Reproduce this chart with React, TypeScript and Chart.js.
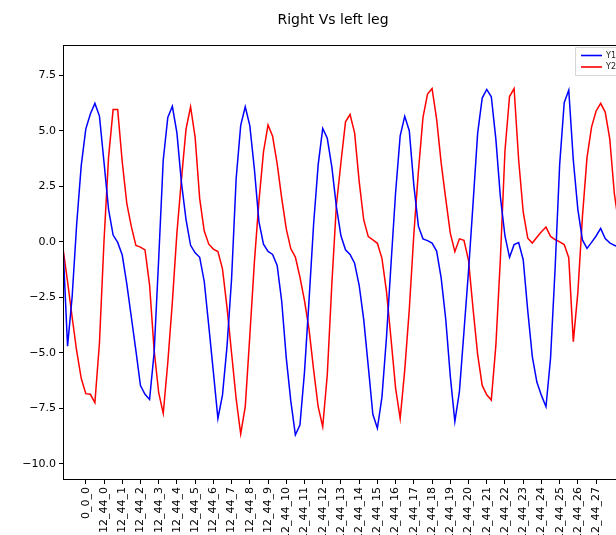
import React, { useEffect, useRef } from "react";
import { Chart, registerables } from "chart.js";

Chart.register(...registerables);

const TITLE = "Right Vs left leg";
const SERIES_NAMES = ["Y1", "Y2"];
const SERIES_COLORS = ["#0000ff", "#ff0000"];

const tickLabels = [
  "0_0_0", "12_44_0", "12_44_1", "12_44_2", "12_44_3", "12_44_4", "12_44_5",
  "12_44_6", "12_44_7", "12_44_8", "12_44_9", "12_44_10", "12_44_11", "12_44_12",
  "12_44_13", "12_44_14", "12_44_15", "12_44_16", "12_44_17", "12_44_18",
  "12_44_19", "12_44_20", "12_44_21", "12_44_22", "12_44_23", "12_44_24",
  "12_44_25", "12_44_26", "12_44_27",
];
const FIRST_TICK_INDEX = 5;
const SAMPLES_PER_TICK = 4;
const X_MAX = 124;

const yTickValues = [-10, -7.5, -5, -2.5, 0, 2.5, 5, 7.5];
const Y_MIN = -10.73;
const Y_MAX = 8.86;

const y1Values = [
  -0.2, -4.7, -2.5, 0.79, 3.43, 5.07, 5.75, 6.23, 5.66, 3.58,
  1.46, 0.3, -0.03, -0.6, -1.9, -3.4, -4.9, -6.48, -6.87, -7.1,
  -5.0, -0.78, 3.68, 5.6, 6.1, 4.9, 2.65, 1.0, -0.16, -0.5,
  -0.7, -1.79, -3.8, -5.86, -7.96, -6.91, -4.7, -1.66, 2.84, 5.24,
  6.08, 5.23, 3.28, 0.91, -0.11, -0.44, -0.57, -1.07, -2.68, -5.23,
  -7.18, -8.7, -8.26, -5.87, -2.63, 0.79, 3.46, 5.1, 4.66, 3.37,
  1.58, 0.27, -0.36, -0.57, -0.97, -1.96, -3.51, -5.61, -7.77, -8.4,
  -7.0, -4.29, -0.97, 2.23, 4.77, 5.65, 5.0, 2.54, 0.7, 0.13,
  0.05, -0.06, -0.42, -1.64, -3.49, -6.05, -8.1, -6.75, -4.04, -1.31,
  1.74, 4.88, 6.47, 6.86, 6.53, 4.62, 2.0, 0.26, -0.7, -0.13,
  -0.04, -0.81, -3.11, -5.17, -6.32, -6.92, -7.43, -5.25, -1.22, 3.47,
  6.26, 6.83, 3.67, 1.45, 0.08, -0.3, -0.03, 0.26, 0.6, 0.14,
  -0.05, -0.16, -0.25, -0.3,
];

const y2Values = [
  -0.3, -1.79, -3.39, -4.92, -6.15, -6.84, -6.87, -7.25, -4.56, 0.03,
  3.81, 5.95, 5.95, 3.6, 1.73, 0.68, -0.17, -0.24, -0.37, -1.94,
  -4.88, -6.8, -7.73, -5.44, -2.72, 0.4, 2.82, 5.07, 6.08, 4.7,
  1.94, 0.48, -0.11, -0.33, -0.44, -1.22, -2.97, -5.02, -7.07, -8.65,
  -7.43, -4.24, -0.93, 1.82, 4.05, 5.26, 4.75, 3.52, 1.96, 0.58,
  -0.32, -0.69, -1.59, -2.65, -3.95, -5.76, -7.43, -8.33, -6.0, -1.91,
  1.65, 3.57, 5.4, 5.73, 4.9, 2.72, 0.98, 0.23, 0.08, -0.07,
  -0.75, -2.25, -4.39, -6.6, -7.96, -5.78, -3.05, 0.34, 3.17, 5.59,
  6.65, 6.9, 5.52, 3.54, 1.93, 0.39, -0.45, 0.13, 0.06, -0.84,
  -3.03, -5.07, -6.47, -6.89, -7.13, -4.67, -0.73, 4.1, 6.54, 6.9,
  3.69, 1.34, 0.16, -0.06, 0.2, 0.45, 0.66, 0.24, 0.1, -0.01,
  -0.13, -0.72, -4.5, -2.27, 1.13, 3.79, 5.16, 5.89, 6.23, 5.84,
  4.63, 2.18, 0.74, 0.3,
];

const FONT = "'DejaVu Sans', sans-serif";
const CANVAS_W = 666;
const CANVAS_H = 535;

export default function App() {
  const ref = useRef<HTMLCanvasElement>(null);

  useEffect(() => {
    document.body.style.margin = "0";
    const canvas = ref.current;
    if (!canvas) return;

    const framePlugin = {
      id: "frame",
      afterDatasetsDraw(chart: any) {
        const { ctx, chartArea: a } = chart;
        ctx.save();
        ctx.strokeStyle = "#000";
        ctx.lineWidth = 1;
        ctx.strokeRect(Math.round(a.left) + 0.5, Math.round(a.top) + 0.5,
          Math.round(a.right - a.left) - 1, Math.round(a.bottom - a.top) - 1);
        ctx.restore();
      },
    };

    const legendPlugin = {
      id: "mplLegend",
      afterDraw(chart: any) {
        const { ctx, chartArea: a } = chart;
        const right = a.right - 5;
        const top = a.top + 2;
        const left = right - 48;
        const bottom = top + 28;
        ctx.save();
        ctx.fillStyle = "rgba(255,255,255,0.8)";
        ctx.strokeStyle = "rgba(204,204,204,0.8)";
        ctx.lineWidth = 1;
        ctx.beginPath();
        ctx.rect(left + 0.5, top + 0.5, right - left, bottom - top);
        ctx.fill();
        ctx.stroke();
        ctx.font = `8px ${FONT}`;
        ctx.textBaseline = "middle";
        ctx.textAlign = "left";
        SERIES_NAMES.forEach((name, k) => {
          const y = top + 8.5 + k * 11.5;
          ctx.strokeStyle = SERIES_COLORS[k];
          ctx.lineWidth = 1.6;
          ctx.beginPath();
          ctx.moveTo(left + 6, y);
          ctx.lineTo(left + 27, y);
          ctx.stroke();
          ctx.fillStyle = "#222";
          ctx.fillText(name, left + 31, y);
        });
        ctx.restore();
      },
    };

    const toPoints = (arr: number[]) => arr.map((y, i) => ({ x: i, y }));

    const chart = new Chart(canvas, {
      type: "line",
      data: {
        datasets: [y1Values, y2Values].map((vals, k) => ({
          label: SERIES_NAMES[k],
          data: toPoints(vals),
          borderColor: SERIES_COLORS[k],
          backgroundColor: SERIES_COLORS[k],
          borderWidth: 1.5,
          pointRadius: 0,
          tension: 0,
          fill: false,
          yAxisID: "y",
        })),
      },
      options: {
        responsive: false,
        animation: false,
        devicePixelRatio: 1,
        layout: { padding: { left: 0, right: 0, top: 0, bottom: 0 } },
        plugins: {
          legend: { display: false },
          tooltip: { enabled: false },
          title: {
            display: true,
            text: TITLE,
            color: "#000",
            font: { family: FONT, size: 14, weight: "normal" },
            padding: { top: 11.6, bottom: 16.6 },
          },
        },
        scales: {
          x: {
            type: "linear",
            min: 0,
            max: X_MAX,
            afterBuildTicks: (s: any) => {
              s.ticks = tickLabels.map((_, k) => ({ value: FIRST_TICK_INDEX + k * SAMPLES_PER_TICK }));
            },
            afterFit: (s: any) => { s.height = 55; },
            ticks: {
              autoSkip: false,
              minRotation: 90,
              maxRotation: 90,
              padding: 3,
              color: "#000",
              font: { family: FONT, size: 11 },
              callback: (v: any) => {
                const k = Math.round((Number(v) - FIRST_TICK_INDEX) / SAMPLES_PER_TICK);
                return tickLabels[k] ?? "";
              },
            },
            grid: { display: true, drawOnChartArea: false, drawTicks: true, tickLength: 4, color: "#000", lineWidth: 1 },
            border: { display: false },
          },
          y: {
            type: "linear",
            position: "left",
            min: Y_MIN,
            max: Y_MAX,
            afterBuildTicks: (s: any) => { s.ticks = yTickValues.map((v) => ({ value: v })); },
            afterFit: (s: any) => { s.width = 63; },
            ticks: {
              padding: 3,
              color: "#000",
              font: { family: FONT, size: 11 },
              callback: (v: any) => Number(v).toFixed(1).replace("-", "\u2212"),
            },
            grid: { display: true, drawOnChartArea: false, drawTicks: true, tickLength: 4, color: "#000", lineWidth: 1 },
            border: { display: false },
          },
          yRight: {
            type: "linear",
            position: "right",
            display: true,
            afterFit: (s: any) => { s.width = 38; },
            ticks: { display: false },
            grid: { display: false, drawTicks: false },
            border: { display: false },
          },
        },
      },
      plugins: [framePlugin, legendPlugin],
    });

    return () => chart.destroy();
  }, []);

  return (
    <div style={{ width: 616, height: 535, overflow: "hidden", background: "#fff" }}>
      <canvas ref={ref} width={CANVAS_W} height={CANVAS_H} style={{ display: "block", width: CANVAS_W, height: CANVAS_H }} />
    </div>
  );
}
